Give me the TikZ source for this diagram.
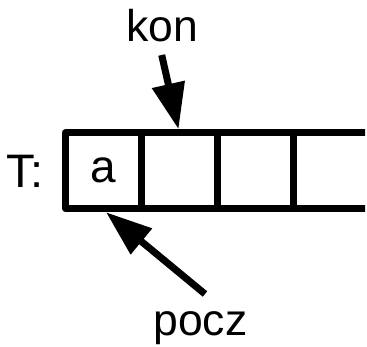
\documentclass[tikz,border=0pt]{standalone}
\usepackage{fontspec}
\setmainfont{Liberation Sans}
\usetikzlibrary{arrows.meta}

\tikzset{
  cell/.style={draw, line width=7pt, line join=round, minimum size=76pt,
               inner sep=0pt, font=\fontsize{46}{46}\selectfont},
  lbl/.style={inner sep=0pt, anchor=base},
  ptr/.style={line width=7pt, -{Triangle[length=46pt, width=32pt]}},
}

\begin{document}
\begin{tikzpicture}[x=1pt, y=-1pt]
  \useasboundingbox (0,0) rectangle (367,346);

  % the array: four cells, the last one running off the right edge
  \begin{scope}
    \clip (0,0) rectangle (365,346);
    \node[cell] (c1) at (103.5,170.7) {a};
    \node[cell] (c2) at (179.5,170.7) {};
    \node[cell] (c3) at (255.5,170.7) {};
    \node[cell] (c4) at (331.5,170.7) {};
  \end{scope}

  % name of the array
  \node[lbl, font=\fontsize{47}{47}\selectfont] (name) at (25,187.3) {T:};

  % pointer labels
  \node[lbl, font=\fontsize{44.5}{44.5}\selectfont] (kon) at (162.3,41.7) {kon};
  \node[lbl, font=\fontsize{44.5}{44.5}\selectfont] (pocz) at (200.5,335) {pocz};

  \coordinate (konfrom) at (161.7,55);
  \coordinate (poczfrom) at (205,294);

  % pointers into the array
  \draw[ptr] (konfrom) -- ([xshift=-1pt]c2.north);
  \draw[ptr] (poczfrom) -- ([xshift=2.5pt]c1.south);
\end{tikzpicture}
\end{document}
